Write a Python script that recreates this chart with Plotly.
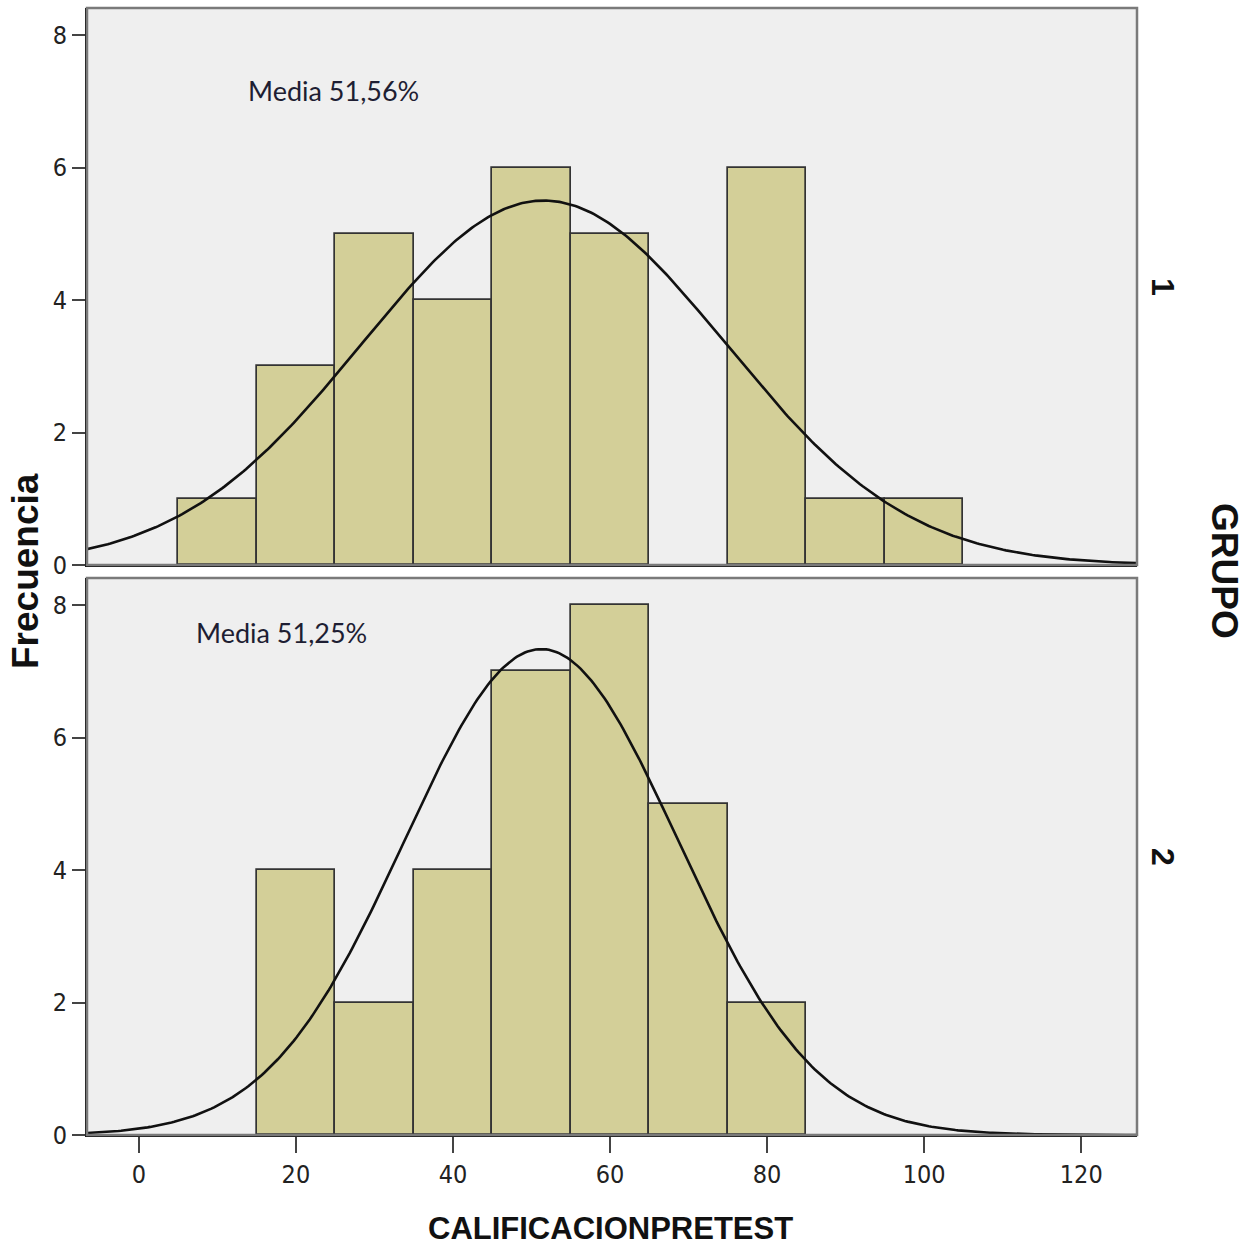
import numpy as np
import plotly.graph_objects as go

# ---- data ----
bin_starts = [5, 15, 25, 35, 45, 55, 65, 75, 85, 95]
bin_width = 10
counts_g1 = [1, 3, 5, 4, 6, 5, 0, 6, 1, 1]
counts_g2 = [0, 4, 2, 4, 7, 8, 5, 2, 0, 0]
mean_g1, sd_g1, n_g1 = 51.56, 23.2, 32
mean_g2, sd_g2, n_g2 = 51.25, 17.4, 32
labels_mean = ["Media 51,56%", "Media 51,25%"]
group_labels = ["1", "2"]
x_ticks = [0, 20, 40, 60, 80, 100, 120]
y_ticks = [0, 2, 4, 6, 8]

W, H = 1246, 1249
BAR = "#d3cf98"
BG = "#efefef"
TICKFONT = dict(family="Liberation Sans Narrow, DejaVu Sans Condensed, Arial Narrow, sans-serif",
                size=25, color="#222222")

fig = go.Figure()

def px_x(p):
    return p / W

def px_y(p):
    return 1 - p / H

dom_x = [px_x(87), px_x(1137)]
dom_y1 = [px_y(565), px_y(8)]
dom_y2 = [px_y(1135), px_y(578)]

xgrid = np.linspace(-7, 128, 400)

for i, (counts, mu, sd, n) in enumerate([(counts_g1, mean_g1, sd_g1, n_g1),
                                          (counts_g2, mean_g2, sd_g2, n_g2)]):
    xa = "x" if i == 0 else "x2"
    ya = "y" if i == 0 else "y2"
    xs = [s + bin_width / 2 for s, c in zip(bin_starts, counts) if c > 0]
    ys = [c for c in counts if c > 0]
    fig.add_trace(go.Bar(x=xs, y=ys, width=bin_width, xaxis=xa, yaxis=ya,
                         marker=dict(color=BAR, line=dict(color="#333333", width=1.7)),
                         showlegend=False, hoverinfo="x+y"))
    curve = n * bin_width / (sd * np.sqrt(2 * np.pi)) * np.exp(-(xgrid - mu) ** 2 / (2 * sd ** 2))
    fig.add_trace(go.Scatter(x=xgrid, y=curve, mode="lines", xaxis=xa, yaxis=ya,
                             line=dict(color="#111111", width=2.6), showlegend=False,
                             hoverinfo="skip"))

xrange = [-6.6, 127.1]
yrange = [0, 8.41]

common_x = dict(range=xrange, showline=True, linecolor="#111111", linewidth=2,
                showgrid=False, zeroline=False, fixedrange=True, automargin=False)
common_y = dict(range=yrange, showline=True, linecolor="#111111", linewidth=2,
                showgrid=False, zeroline=False, tickvals=y_ticks, ticks="outside",
                ticklen=13, tickwidth=2, tickcolor="#444444", tickfont=TICKFONT,
                automargin=False)

fig.update_layout(
    width=W, height=H,
    margin=dict(l=0, r=0, t=0, b=0),
    paper_bgcolor="white",
    plot_bgcolor=BG,
    bargap=0,
    xaxis=dict(domain=dom_x, anchor="y", showticklabels=False, ticks="", **common_x),
    yaxis=dict(domain=dom_y1, anchor="x", **common_y),
    xaxis2=dict(domain=dom_x, anchor="y2", tickvals=x_ticks, ticks="outside",
                ticklen=16, tickwidth=2, tickcolor="#444444", tickfont=TICKFONT,
                **common_x),
    yaxis2=dict(domain=dom_y2, anchor="x2", **common_y),
)

# panel frames (top/right gray border)
for xr, yr in [("x domain", "y domain"), ("x2 domain", "y2 domain")]:
    fig.add_shape(type="rect", xref=xr, yref=yr, x0=0, x1=1, y0=0, y1=1,
                  line=dict(color="#7a7a7a", width=2.5), fillcolor="rgba(0,0,0,0)",
                  layer="above")

MEDIA_FONT = dict(family="Lato, Open Sans, sans-serif", size=27, color="#1e1e33")
fig.add_annotation(x=24.8, y=7.17, xref="x", yref="y", text=labels_mean[0],
                   showarrow=False, font=MEDIA_FONT, xanchor="center", yanchor="middle")
fig.add_annotation(x=18.2, y=7.58, xref="x2", yref="y2", text=labels_mean[1],
                   showarrow=False, font=MEDIA_FONT, xanchor="center", yanchor="middle")

BOLD = "Liberation Sans, Arial, sans-serif"

def label(x, y, text, size, angle=0):
    fig.add_annotation(x=px_x(x), y=px_y(y), xref="paper", yref="paper",
                       text="<b>" + text + "</b>", showarrow=False, textangle=angle,
                       xanchor="center", yanchor="middle",
                       font=dict(family=BOLD, size=size, color="#111111"))

label(610, 1228, "CALIFICACIONPRETEST", 31)
label(25, 571, "Frecuencia", 37, -90)
label(1225, 571, "GRUPO", 37, 90)
label(1163, 287, group_labels[0], 32, 90)
label(1163, 857, group_labels[1], 32, 90)

fig.write_html("out.html")
